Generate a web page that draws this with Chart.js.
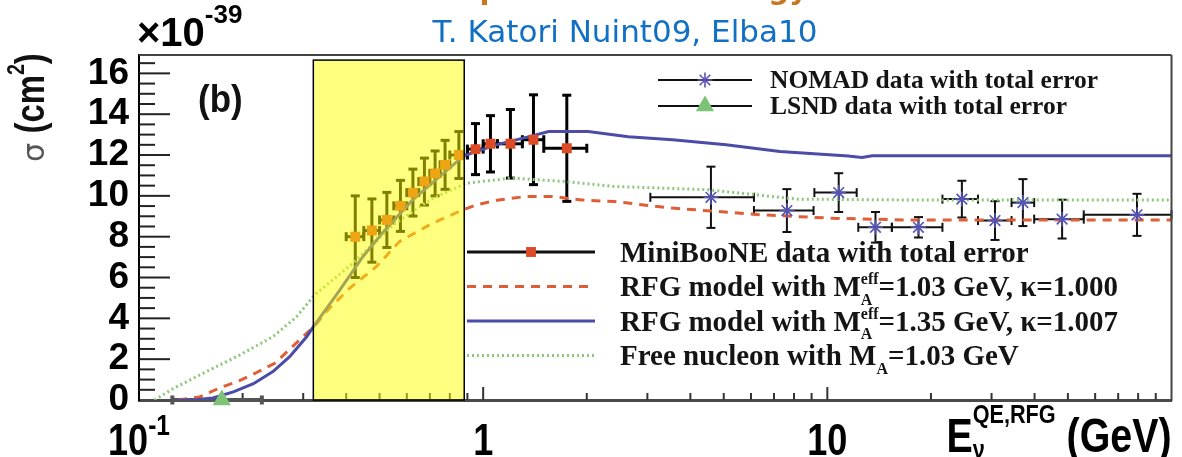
<!DOCTYPE html>
<html>
<head>
<meta charset="utf-8">
<script src="https://cdn.jsdelivr.net/npm/chart.js@4.4.1/dist/chart.umd.min.js"></script>
<style>
  html, body { margin: 0; padding: 0; background: #fff; }
  canvas { display: block; }
</style>
</head>
<body>
<canvas id="xsec" width="1182" height="457"></canvas>
<script>
// CCQE cross section vs neutrino energy (values in 1e-39 cm^2, energies in GeV)

// MiniBooNE data, bin centres / edges
const minibooneE = [0.425, 0.475, 0.525, 0.575, 0.625, 0.675, 0.725, 0.775, 0.85, 0.95, 1.05, 1.2, 1.4, 1.75];
const minibooneLo = [0.4, 0.45, 0.5, 0.55, 0.6, 0.65, 0.7, 0.75, 0.8, 0.9, 1.0, 1.1, 1.3, 1.5];
const minibooneHi = [0.45, 0.5, 0.55, 0.6, 0.65, 0.7, 0.75, 0.8, 0.9, 1.0, 1.1, 1.3, 1.5, 2.0];
const minibooneSigma = [8.0, 8.3, 8.82, 9.51, 10.16, 10.7, 11.1, 11.52, 12.0, 12.29, 12.55, 12.55, 12.75, 12.33];
const minibooneErr = [2.0, 1.55, 1.35, 1.25, 1.15, 1.15, 1.1, 1.2, 1.15, 1.25, 1.38, 1.68, 2.2, 2.6];

// NOMAD data
const nomadE = [4.59, 7.63, 10.79, 13.8, 18.4, 24.6, 30.7, 37.0, 48.1, 79.4];
const nomadLo = [3.06, 6.12, 9.17, 12.3, 15.4, 21.6, 27.4, 34.3, 39.9, 55.6];
const nomadHi = [6.12, 9.12, 12.17, 15.4, 21.6, 27.4, 34.3, 39.9, 55.6, 100];
const nomadSigma = [9.93, 9.28, 10.16, 8.46, 8.46, 9.84, 8.79, 9.67, 8.86, 9.07];
const nomadErr = [1.5, 1.05, 0.95, 0.75, 0.5, 0.9, 0.95, 1.15, 0.95, 1.03];

// LSND point
const lsndE = [0.174];
const lsndLo = [0.125];
const lsndHi = [0.2275];
const lsndSigma = [0.0];

// model curves
const rfg135E = [0.13, 0.144, 0.164, 0.188, 0.215, 0.245, 0.274, 0.307, 0.324, 0.38, 0.447, 0.511, 0.624, 0.851, 0.891, 1.09, 1.36, 1.55, 2.02, 2.64, 3.55, 5.08, 7.28, 11.5, 12.6, 13.5, 20, 100];
const rfg135Sigma = [0.0, 0.0, 0.1, 0.4, 0.8, 1.39, 2.12, 3.1, 3.68, 5.3, 7.02, 8.2, 9.8, 11.76, 12.0, 12.5, 12.9, 13.15, 13.15, 12.9, 12.75, 12.5, 12.17, 11.95, 11.88, 11.96, 11.96, 11.96];

const rfg103E = [0.13, 0.15, 0.172, 0.196, 0.217, 0.248, 0.326, 0.35, 0.409, 0.489, 0.571, 0.713, 0.851, 0.953, 1.11, 1.33, 1.59, 1.93, 2.4, 3.55, 6.46, 10.4, 16.8, 100];
const rfg103Sigma = [0.0, 0.15, 0.6, 0.95, 1.3, 1.8, 3.68, 4.33, 5.47, 6.53, 7.76, 8.66, 9.23, 9.56, 9.8, 9.97, 9.97, 9.8, 9.72, 9.4, 9.07, 8.9, 8.82, 8.82];

const freeE = [0.111, 0.126, 0.157, 0.196, 0.245, 0.287, 0.324, 0.418, 0.55, 0.7, 0.891, 1.21, 1.74, 2.4, 4.5, 8.18, 16.8, 100];
const freeSigma = [0.0, 0.57, 1.39, 2.2, 3.1, 4.08, 5.15, 6.7, 8.6, 9.8, 10.62, 10.87, 10.7, 10.46, 10.3, 9.84, 9.8, 9.8];

// highlighted energy band
const highlightE = [0.321, 0.881];
const highlightTop = 16.65;

// axes
const xMin = 0.1, xMax = 100, yMin = 0, yMax = 16.9;
const yTickStep = 2, yMinorStep = 0.5;
const xLabelValues = [0.1, 1, 10];
const xLabelTexts = ['10^{-1}', '1', '10'];

const legendTopLabels = ['NOMAD data with total error', 'LSND data with total error'];
const legendTopSets = [1, 2];
const legendLowLabels = [
  'MiniBooNE data with total error',
  'RFG model with M^{eff}_{A}=1.03 GeV, \u03ba=1.000',
  'RFG model with M^{eff}_{A}=1.35 GeV, \u03ba=1.007',
  'Free nucleon with M_{A}=1.03 GeV'
];
const legendLowSets = [0, 4, 3, 5];

const SANS = "'Liberation Sans', Arial, sans-serif";
const SERIF = "'Liberation Serif', 'Times New Roman', serif";
const NARROW = 0.82;

function pts(xs, ys) {
  return xs.map((v, i) => ({ x: v, y: ys[i] }));
}

// text with ^{sup} and _{sub} parts, returns end x (o.sx squeezes horizontally)
function drawRich(ctx, str, x, y, o) {
  const sx = o.sx || 1;
  const parts = str.split(/(\^\{[^}]*\}|_\{[^}]*\})/).filter(s => s.length);
  const sc = o.supScale || 0.6;
  let cx = 0, scriptX = null, scriptEnd = 0;
  ctx.save();
  ctx.translate(x, y);
  ctx.scale(sx, 1);
  ctx.fillStyle = o.color || '#000';
  ctx.textAlign = 'left';
  ctx.textBaseline = 'alphabetic';
  for (const p of parts) {
    const isSup = p.startsWith('^{'), isSub = p.startsWith('_{');
    if (isSup || isSub) {
      const t = p.slice(2, -1);
      ctx.font = `${o.weight || 'normal'} ${o.size * sc}px ${o.family}`;
      if (scriptX === null) { scriptX = cx; scriptEnd = cx; }
      const dy = isSup ? -o.size * (o.supRise || 0.42) : o.size * (o.subDrop || 0.22);
      if (!o.measureOnly) ctx.fillText(t, scriptX, dy);
      scriptEnd = Math.max(scriptEnd, scriptX + ctx.measureText(t).width);
      cx = scriptEnd;
    } else {
      scriptX = null;
      ctx.font = `${o.weight || 'normal'} ${o.size}px ${o.family}`;
      if (!o.measureOnly) ctx.fillText(p, cx, 0);
      cx += ctx.measureText(p).width;
    }
  }
  ctx.restore();
  return x + cx * sx;
}

function seg(ctx, x0, y0, x1, y1) {
  ctx.beginPath();
  ctx.moveTo(x0, y0);
  ctx.lineTo(x1, y1);
  ctx.stroke();
}

function marker(ctx, style, cx, cy, r, fill, stroke, lw) {
  ctx.save();
  if (style === 'rect') {
    const s = Math.SQRT1_2 * r;
    ctx.fillStyle = fill;
    ctx.fillRect(cx - s, cy - s, 2 * s, 2 * s);
  } else if (style === 'triangle') {
    ctx.fillStyle = fill;
    ctx.beginPath();
    ctx.moveTo(cx, cy - r);
    ctx.lineTo(cx + r * 0.866, cy + r / 2);
    ctx.lineTo(cx - r * 0.866, cy + r / 2);
    ctx.closePath();
    ctx.fill();
  } else if (style === 'star') {
    ctx.strokeStyle = stroke;
    ctx.lineWidth = lw;
    for (let k = 0; k < 4; k++) {
      const a = k * Math.PI / 4;
      seg(ctx, cx - r * Math.cos(a), cy - r * Math.sin(a), cx + r * Math.cos(a), cy + r * Math.sin(a));
    }
  }
  ctx.restore();
}

function errBars(ctx, x, y, es, lo, hi, sig, err, lw, cap, color) {
  ctx.strokeStyle = color;
  ctx.lineWidth = lw;
  es.forEach((e, i) => {
    const px = x.getPixelForValue(e);
    const py = y.getPixelForValue(sig[i]);
    const xl = x.getPixelForValue(lo[i]);
    const xh = x.getPixelForValue(hi[i]);
    seg(ctx, xl, py, xh, py);
    seg(ctx, xl, py - cap / 2, xl, py + cap / 2);
    seg(ctx, xh, py - cap / 2, xh, py + cap / 2);
    if (err) {
      const yt = y.getPixelForValue(sig[i] + err[i]);
      const yb = y.getPixelForValue(sig[i] - err[i]);
      seg(ctx, px, yt, px, yb);
      seg(ctx, px - cap / 2, yt, px + cap / 2, yt);
      seg(ctx, px - cap / 2, yb, px + cap / 2, yb);
    }
  });
}

// ticks and error bars, drawn under the markers
const underlay = {
  id: 'underlay',
  beforeDatasetsDraw(chart) {
    const { ctx, chartArea: a, scales: { x, y } } = chart;
    ctx.save();
    ctx.strokeStyle = '#222';
    ctx.lineWidth = 2;
    const nMinor = Math.floor(yMax / yMinorStep);
    for (let i = 1; i <= nMinor; i++) {
      const v = i * yMinorStep;
      const py = y.getPixelForValue(v);
      seg(ctx, a.left, py, a.left + (v % yTickStep === 0 ? 31 : 16), py);
    }
    ctx.strokeStyle = '#333';
    const e0 = Math.floor(Math.log10(xMin)), e1 = Math.ceil(Math.log10(xMax));
    for (let e = e0; e <= e1; e++) {
      for (let m = 1; m <= 9; m++) {
        const v = m * Math.pow(10, e);
        if (v <= xMin * 1.0001 || v >= xMax * 0.9999) continue;
        const px = x.getPixelForValue(v);
        seg(ctx, px, a.bottom, px, a.bottom - (m === 1 ? 13 : 7));
      }
    }
    errBars(ctx, x, y, lsndE, lsndLo, lsndHi, lsndSigma, null, 4, 9, '#555');
    errBars(ctx, x, y, nomadE, nomadLo, nomadHi, nomadSigma, nomadErr, 2, 9, '#111');
    errBars(ctx, x, y, minibooneE, minibooneLo, minibooneHi, minibooneSigma, minibooneErr, 3, 9, '#000');
    ctx.restore();
  }
};

const overlay = {
  id: 'overlay',
  afterDatasetsDraw(chart) {
    const { ctx, chartArea: a, scales: { x, y } } = chart;
    const ds = chart.data.datasets;
    ctx.save();
    // highlighted band
    const bx0 = x.getPixelForValue(highlightE[0]);
    const bx1 = x.getPixelForValue(highlightE[1]);
    const by0 = y.getPixelForValue(highlightTop);
    const by1 = y.getPixelForValue(0);
    ctx.fillStyle = 'rgba(255,255,0,0.5)';
    ctx.fillRect(bx0, by0, bx1 - bx0, by1 - by0);
    ctx.strokeStyle = '#000';
    ctx.lineWidth = 1.5;
    ctx.strokeRect(bx0, by0, bx1 - bx0, by1 - by0);

    // frame top / right
    ctx.strokeStyle = '#444';
    ctx.lineWidth = 2;
    seg(ctx, a.left, a.top, a.right, a.top);
    seg(ctx, a.right, a.top, a.right, a.bottom + 1);

    // legends
    const legendRow = (i, x0, x1, tx, yc, size, label) => {
      const d = ds[i];
      if (d.showLine === false) {
        ctx.strokeStyle = '#111';
        ctx.lineWidth = i === 0 ? 3 : 2;
        ctx.setLineDash([]);
        seg(ctx, x0, yc, x1, yc);
        marker(ctx, d.pointStyle, (x0 + x1) / 2, yc, d.pointRadius, d.pointBackgroundColor, d.pointBorderColor, d.pointBorderWidth);
      } else {
        ctx.strokeStyle = d.borderColor;
        ctx.lineWidth = d.borderWidth;
        ctx.setLineDash(d.borderDash || []);
        seg(ctx, x0, yc, x1, yc);
        ctx.setLineDash([]);
      }
      drawRich(ctx, label, tx, yc + size * 0.33, { size, family: SERIF, weight: 'bold', color: '#141414', supScale: 0.55, supRise: 0.4, subDrop: 0.3 });
    };
    legendTopLabels.forEach((l, k) => legendRow(legendTopSets[k], 658, 752, 770, 80 + k * 26, 25.5, l));
    legendLowLabels.forEach((l, k) => legendRow(legendLowSets[k], 467, 595, 620, 252 + k * 34.5, 29, l));

    // panel tag
    drawRich(ctx, '(b)', 198, 112, { size: 38, family: SANS, weight: 'bold', color: '#111', sx: 0.92 });
    ctx.restore();
  },
  afterDraw(chart) {
    const { ctx, chartArea: a, scales: { x } } = chart;
    ctx.save();
    // header lines
    ctx.fillStyle = '#c8761f';
    ctx.font = "bold 29px 'DejaVu Sans', sans-serif";
    ctx.textAlign = 'right';
    ctx.textBaseline = 'alphabetic';
    ctx.fillText('MiniBooNE total cross section per neutrino energy', 808, -1);
    ctx.fillStyle = '#1270c4';
    ctx.font = "31px 'DejaVu Sans', sans-serif";
    ctx.textAlign = 'center';
    ctx.fillText('T. Katori Nuint09, Elba10', 625, 42);

    // exponent
    drawRich(ctx, '\u00d710^{-39}', 137, 46, { size: 40, family: SANS, weight: 'bold', supScale: 0.65, supRise: 0.58 });

    // x tick labels
    const lo = { size: 44, family: SANS, weight: 'bold', supScale: 0.68, supRise: 0.45, sx: NARROW };
    xLabelValues.forEach((v, i) => {
      const w = drawRich(ctx, xLabelTexts[i], 0, 0, Object.assign({ measureOnly: true }, lo));
      drawRich(ctx, xLabelTexts[i], x.getPixelForValue(v) - w / 2, 455, lo);
    });

    // x title
    const to = { size: 48, family: SANS, weight: 'bold', supScale: 0.55, supRise: 0.6, subDrop: 0.12, sx: NARROW };
    const xt = 'E_{\u03bd}^{QE,RFG} (GeV)';
    const tw = drawRich(ctx, xt, 0, 0, Object.assign({ measureOnly: true }, to));
    drawRich(ctx, xt, a.right - tw, 452, to);

    // y title
    ctx.translate(44, 162);
    ctx.rotate(-Math.PI / 2);
    ctx.fillStyle = '#555';
    ctx.font = "30px 'DejaVu Sans', sans-serif";
    ctx.textAlign = 'left';
    ctx.fillText('\u03c3', 0, 0);
    const sw = ctx.measureText('\u03c3 ').width;
    drawRich(ctx, '(cm^{2})', sw, 0, { size: 40, family: SANS, weight: 'bold', color: '#111', supScale: 0.6, supRise: 0.5, sx: NARROW });
    ctx.restore();
  }
};

new Chart(document.getElementById('xsec'), {
  type: 'line',
  data: {
    datasets: [
      { label: 'MiniBooNE', data: pts(minibooneE, minibooneSigma), showLine: false, pointStyle: 'rect', pointRadius: 7, pointBackgroundColor: '#dc4a26', pointBorderColor: '#dc4a26', pointBorderWidth: 0 },
      { label: 'NOMAD', data: pts(nomadE, nomadSigma), showLine: false, pointStyle: 'star', pointRadius: 7.5, pointBackgroundColor: '#5454b4', pointBorderColor: '#5454b4', pointBorderWidth: 1.6 },
      { label: 'LSND', data: pts(lsndE, lsndSigma), showLine: false, pointStyle: 'triangle', pointRadius: 10.5, pointBackgroundColor: '#7cc277', pointBorderColor: '#7cc277', pointBorderWidth: 0, clip: false },
      { label: 'RFG 1.35', data: pts(rfg135E, rfg135Sigma), borderColor: '#4b4ba8', borderWidth: 3, pointRadius: 0, tension: 0 },
      { label: 'RFG 1.03', data: pts(rfg103E, rfg103Sigma), borderColor: '#de5f35', borderWidth: 3, borderDash: [9, 7], pointRadius: 0, tension: 0 },
      { label: 'Free nucleon', data: pts(freeE, freeSigma), borderColor: '#8dc87a', borderWidth: 3, borderDash: [2, 3], pointRadius: 0, tension: 0 }
    ]
  },
  options: {
    responsive: false,
    animation: false,
    devicePixelRatio: 1,
    events: [],
    layout: { padding: { top: 55, right: 4, left: 0, bottom: 0 } },
    plugins: {
      legend: { display: false },
      tooltip: { enabled: false }
    },
    scales: {
      x: {
        type: 'logarithmic',
        min: xMin,
        max: xMax,
        grid: { display: false, drawTicks: false },
        ticks: { display: false },
        border: { display: true, color: '#4a4a4a', width: 3 },
        afterFit: s => { s.height = 57; }
      },
      y: {
        min: yMin,
        max: yMax,
        grid: { display: false, drawTicks: false },
        border: { display: true, color: '#000', width: 2 },
        ticks: {
          stepSize: yTickStep,
          includeBounds: false,
          autoSkip: false,
          padding: 10,
          color: '#000',
          font: { family: SANS, size: 37, weight: 'bold' }
        },
        afterFit: s => { s.width = 139; }
      }
    }
  },
  plugins: [underlay, overlay]
});
</script>
</body>
</html>
